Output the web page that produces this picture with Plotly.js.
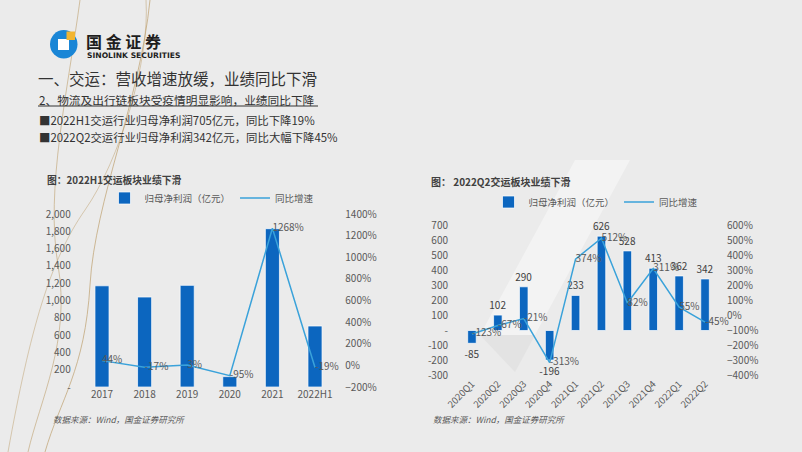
<!DOCTYPE html>
<html>
<head>
<meta charset="utf-8">
<script src="https://cdn.plot.ly/plotly-3.0.1.min.js"></script>
<style>
  html, body { margin: 0; padding: 0; background: #ebebeb; }
</style>
</head>
<body>
<div id="slide" style="width:802px;height:452px"></div>
<script>
// 左图：年度归母净利润（亿元）与同比增速
var yearCats = ['2017', '2018', '2019', '2020', '2021', '2022H1'];
var yearProfit = [1170, 1040, 1175, 120, 1830, 705];
var yearGrowth = [44, -17, 3, -95, 1268, -19];
var yearGrowthText = ['44%', '-17%', '3%', '-95%', '1268%', '-19%'];

// 右图：季度归母净利润（亿元）与同比增速
var qtrCats = ['2020Q1', '2020Q2', '2020Q3', '2020Q4', '2021Q1', '2021Q2', '2021Q3', '2021Q4', '2022Q1', '2022Q2'];
var qtrProfit = [-85, 102, 290, -196, 233, 626, 528, 413, 362, 342];
var qtrGrowth = [-123, -67, -21, -313, 374, 512, 82, 311, 55, -45];
var qtrGrowthText = ['-123%', '-67%', '-21%', '-313%', '374%', '512%', '82%', '311%', '55%', '-45%'];

// 坐标轴刻度
var yearTickVals = [0, 200, 400, 600, 800, 1000, 1200, 1400, 1600, 1800, 2000];
var yearTickText = ['-', '200', '400', '600', '800', '1,000', '1,200', '1,400', '1,600', '1,800', '2,000'];
var qtrTickVals = [-300, -200, -100, 0, 100, 200, 300, 400, 500, 600, 700];
var qtrTickText = ['-300', '-200', '-100', '-', '100', '200', '300', '400', '500', '600', '700'];

var W = 802, H = 452;
function X(px) { return px / W; }
function Y(py) { return 1 - py / H; }
function pt(x, y) { return X(x) + ',' + Y(y); }

var FONT = '"Noto Sans CJK SC", "Noto Sans", sans-serif';
var BLUE = '#0c66bf';
var LINE = '#3aa2da';
var GREY = '#595959';

var data = [
  {
    type: 'bar', x: yearCats, y: yearProfit, xaxis: 'x', yaxis: 'y',
    name: '归母净利润（亿元）', legend: 'legend',
    marker: { color: BLUE, line: { color: 'rgba(255,255,255,0.7)', width: 1 } },
    hoverinfo: 'skip'
  },
  {
    type: 'scatter', mode: 'lines', x: yearCats, y: yearGrowth, xaxis: 'x', yaxis: 'y2',
    name: '同比增速', legend: 'legend',
    line: { color: LINE, width: 1.5 }, hoverinfo: 'skip'
  },
  {
    type: 'scatter', mode: 'text', x: yearCats, y: yearGrowth, xaxis: 'x', yaxis: 'y2',
    text: yearGrowthText, textposition: 'middle right', showlegend: false,
    textfont: { size: 10, color: GREY }, cliponaxis: false, hoverinfo: 'skip'
  },
  {
    type: 'bar', x: qtrCats, y: qtrProfit, xaxis: 'x2', yaxis: 'y3',
    name: '归母净利润（亿元）', legend: 'legend2',
    text: qtrProfit.map(String), textposition: 'outside', constraintext: 'none',
    textfont: { size: 10, color: '#404040' }, cliponaxis: false,
    marker: { color: BLUE, line: { color: 'rgba(255,255,255,0.7)', width: 1 } },
    hoverinfo: 'skip'
  },
  {
    type: 'scatter', mode: 'lines', x: qtrCats, y: qtrGrowth, xaxis: 'x2', yaxis: 'y4',
    name: '同比增速', legend: 'legend2',
    line: { color: LINE, width: 1.5 }, hoverinfo: 'skip'
  },
  {
    type: 'scatter', mode: 'text', x: qtrCats, y: qtrGrowth, xaxis: 'x2', yaxis: 'y4',
    text: qtrGrowthText, textposition: 'middle right', showlegend: false,
    textfont: { size: 10, color: GREY }, cliponaxis: false, hoverinfo: 'skip'
  }
];

var tickFont = { size: 10, color: GREY, family: FONT };
var baseAxis = { showgrid: false, zeroline: false, showline: false, ticks: '', tickfont: tickFont, fixedrange: true };

function ann(text, x, y, size, color) {
  return {
    text: text, xref: 'paper', yref: 'paper', x: X(x), y: Y(y),
    xanchor: 'left', yanchor: 'middle', showarrow: false,
    font: { size: size, color: color || '#333333', family: FONT }
  };
}

var legendStyle = {
  orientation: 'h', xanchor: 'center', yanchor: 'middle',
  bgcolor: 'rgba(0,0,0,0)', itemwidth: 30, tracegroupgap: 0,
  font: { size: 9.5, color: GREY, family: FONT }
};

var layout = {
  width: W, height: H, autosize: false,
  margin: { l: 0, r: 0, t: 0, b: 0 },
  paper_bgcolor: '#ebebeb', plot_bgcolor: 'rgba(0,0,0,0)',
  font: { family: FONT, color: GREY },
  bargap: 0.67,
  xaxis: Object.assign({}, baseAxis, { domain: [X(80.7), X(336.3)], anchor: 'y', type: 'category' }),
  yaxis: Object.assign({}, baseAxis, {
    domain: [Y(387), Y(214)], anchor: 'x', range: [0, 2000],
    tickvals: yearTickVals, ticktext: yearTickText, ticklabelstandoff: 9
  }),
  yaxis2: Object.assign({}, baseAxis, {
    overlaying: 'y', side: 'right', anchor: 'x', range: [-200, 1400],
    dtick: 200, tick0: 0, ticksuffix: '%', ticklabelstandoff: 8
  }),
  xaxis2: Object.assign({}, baseAxis, {
    domain: [X(459), X(718)], anchor: 'y3', type: 'category', tickangle: -45,
    tickfont: { size: 9.5, color: GREY, family: FONT }
  }),
  yaxis3: Object.assign({}, baseAxis, {
    domain: [Y(375.7), Y(225)], anchor: 'x2', range: [-300, 700],
    tickvals: qtrTickVals, ticktext: qtrTickText, ticklabelstandoff: 10
  }),
  yaxis4: Object.assign({}, baseAxis, {
    overlaying: 'y3', side: 'right', anchor: 'x2', range: [-400, 600],
    dtick: 100, tick0: 0, ticksuffix: '%', ticklabelstandoff: 8
  }),
  legend: Object.assign({}, legendStyle, { x: X(212), y: Y(198) }),
  legend2: Object.assign({}, legendStyle, { x: X(596), y: Y(202) }),
  shapes: [
    // 右图背景中的浅色斜带
    { type: 'path', xref: 'paper', yref: 'paper', layer: 'below', line: { width: 0 },
      fillcolor: 'rgba(255,255,255,0.4)',
      path: 'M ' + pt(575, 160) + ' L ' + pt(630, 160) + ' L ' + pt(535, 335) + ' L ' + pt(480, 335) + ' Z' },
    { type: 'path', xref: 'paper', yref: 'paper', layer: 'below', line: { width: 0 },
      fillcolor: 'rgba(205,205,205,0.25)',
      path: 'M ' + pt(480, 335) + ' L ' + pt(535, 335) + ' L ' + pt(515, 372) + ' Z' },
    // 左侧金色装饰曲线
    { type: 'path', xref: 'paper', yref: 'paper', layer: 'below',
      line: { color: 'rgba(190,160,110,0.7)', width: 1 },
      path: 'M ' + pt(150, 0) + ' C ' + pt(140, 100) + ' ' + pt(95, 200) + ' ' + pt(90, 285) +
            ' S ' + pt(60, 400) + ' ' + pt(45, 452) },
    { type: 'path', xref: 'paper', yref: 'paper', layer: 'below',
      line: { color: 'rgba(190,160,110,0.6)', width: 1 },
      path: 'M ' + pt(80, 0) + ' C ' + pt(68, 90) + ' ' + pt(45, 190) + ' ' + pt(58, 265) +
            ' S ' + pt(40, 400) + ' ' + pt(28, 452) },
    { type: 'path', xref: 'paper', yref: 'paper', layer: 'below',
      line: { color: 'rgba(190,160,110,0.5)', width: 1 },
      path: 'M ' + pt(146, 0) + ' C ' + pt(150, 60) + ' ' + pt(120, 160) + ' ' + pt(85, 210) +
            ' S ' + pt(30, 330) + ' ' + pt(8, 452) },
    // 标题下划线
    { type: 'line', xref: 'paper', yref: 'paper', x0: X(38), x1: X(318), y0: Y(106), y1: Y(106),
      line: { color: '#333333', width: 1 } },
    // 标志
    { type: 'circle', xref: 'paper', yref: 'paper', x0: X(50), x1: X(77.5), y0: Y(30), y1: Y(58.5),
      fillcolor: '#1a86d6', line: { width: 0 } },
    { type: 'rect', xref: 'paper', yref: 'paper', x0: X(58), x1: X(69), y0: Y(39), y1: Y(50),
      fillcolor: '#ffffff', line: { width: 0 } },
    { type: 'rect', xref: 'paper', yref: 'paper', x0: X(66.5), x1: X(75), y0: Y(31.5), y1: Y(40),
      fillcolor: '#f2b632', line: { width: 0 } }
  ],
  annotations: [
    ann('<b>国 金 证 券</b>', 84, 41, 16, '#1e1e1e'),
    Object.assign(ann('<b>SINOLINK SECURITIES</b>', 85, 55, 7.6, '#1e1e1e'),
      { font: { size: 7.6, color: '#1e1e1e', family: '"DejaVu Sans", sans-serif' } }),
    ann('一、交运：营收增速放缓，业绩同比下滑', 36, 78, 15.5),
    ann('2、物流及出行链板块受疫情明显影响，业绩同比下降', 37, 99, 11.7),
    ann('■2022H1交运行业归母净利润705亿元，同比下降19%', 37, 120, 11.4),
    ann('■2022Q2交运行业归母净利润342亿元，同比大幅下降45%', 37, 136.5, 11.4),
    ann('<b>图：2022H1交运板块业绩下滑</b>', 45, 180, 9.8, '#404040'),
    ann('<b>图： 2022Q2交运板块业绩下滑</b>', 429, 181, 10, '#404040'),
    Object.assign(ann('<i>数据来源：Wind，国金证券研究所</i>', 51, 419, 8.5, GREY)),
    Object.assign(ann('<i>数据来源：Wind，国金证券研究所</i>', 431, 419, 8.5, GREY))
  ]
};

Plotly.newPlot('slide', data, layout, { staticPlot: true, displayModeBar: false });
</script>
</body>
</html>
